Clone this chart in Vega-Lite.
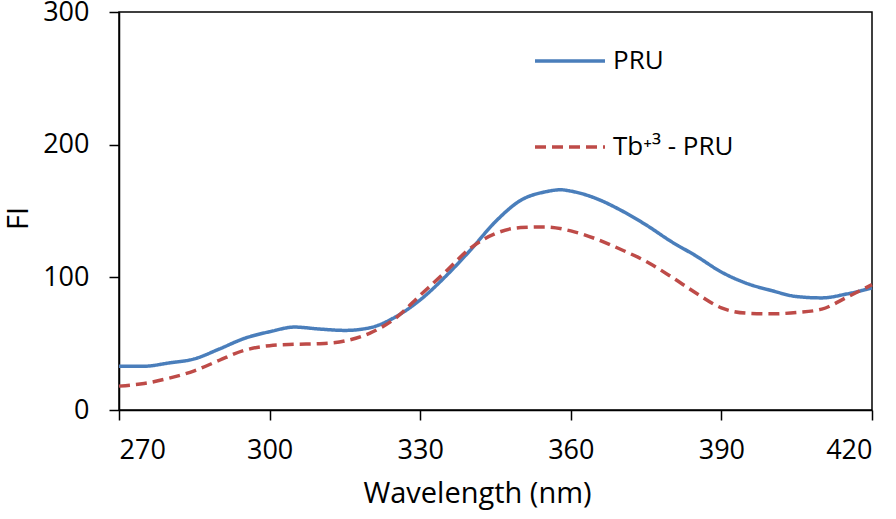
{
  "$schema": "https://vega.github.io/schema/vega-lite/v6.json",
  "width": 753,
  "height": 398,
  "autosize": {"type": "none"},
  "padding": {"left": 119, "top": 12, "right": 24, "bottom": 109},
  "background": "white",
  "data": {
    "values": [
      {"w": 270, "fi": 33, "s": "PRU"}, {"w": 275, "fi": 33, "s": "PRU"}, {"w": 280, "fi": 35.5, "s": "PRU"},
      {"w": 285, "fi": 38.5, "s": "PRU"}, {"w": 290, "fi": 46, "s": "PRU"}, {"w": 295, "fi": 54, "s": "PRU"},
      {"w": 300, "fi": 59, "s": "PRU"}, {"w": 305, "fi": 62.5, "s": "PRU"}, {"w": 310, "fi": 61, "s": "PRU"},
      {"w": 315, "fi": 60, "s": "PRU"}, {"w": 320, "fi": 62, "s": "PRU"}, {"w": 325, "fi": 70, "s": "PRU"},
      {"w": 330, "fi": 83, "s": "PRU"}, {"w": 335, "fi": 100.5, "s": "PRU"}, {"w": 340, "fi": 120.5, "s": "PRU"},
      {"w": 345, "fi": 142, "s": "PRU"}, {"w": 350, "fi": 158, "s": "PRU"}, {"w": 355, "fi": 164.5, "s": "PRU"},
      {"w": 358, "fi": 166, "s": "PRU"}, {"w": 360, "fi": 165, "s": "PRU"}, {"w": 365, "fi": 159.5, "s": "PRU"},
      {"w": 370, "fi": 150.5, "s": "PRU"}, {"w": 375, "fi": 139.5, "s": "PRU"}, {"w": 380, "fi": 127, "s": "PRU"},
      {"w": 385, "fi": 116, "s": "PRU"}, {"w": 390, "fi": 104, "s": "PRU"}, {"w": 395, "fi": 95.5, "s": "PRU"},
      {"w": 400, "fi": 90, "s": "PRU"}, {"w": 405, "fi": 85.5, "s": "PRU"}, {"w": 410, "fi": 84.5, "s": "PRU"},
      {"w": 415, "fi": 87.5, "s": "PRU"}, {"w": 420, "fi": 92, "s": "PRU"},
      {"w": 270, "fi": 18, "s": "Tb⁺³ - PRU"}, {"w": 275, "fi": 20, "s": "Tb⁺³ - PRU"}, {"w": 280, "fi": 24, "s": "Tb⁺³ - PRU"},
      {"w": 285, "fi": 29.5, "s": "Tb⁺³ - PRU"}, {"w": 290, "fi": 37.5, "s": "Tb⁺³ - PRU"}, {"w": 295, "fi": 45, "s": "Tb⁺³ - PRU"},
      {"w": 300, "fi": 48.5, "s": "Tb⁺³ - PRU"}, {"w": 305, "fi": 49.5, "s": "Tb⁺³ - PRU"}, {"w": 310, "fi": 50, "s": "Tb⁺³ - PRU"},
      {"w": 315, "fi": 52, "s": "Tb⁺³ - PRU"}, {"w": 320, "fi": 58, "s": "Tb⁺³ - PRU"}, {"w": 325, "fi": 69, "s": "Tb⁺³ - PRU"},
      {"w": 330, "fi": 86.5, "s": "Tb⁺³ - PRU"}, {"w": 335, "fi": 104, "s": "Tb⁺³ - PRU"}, {"w": 340, "fi": 122, "s": "Tb⁺³ - PRU"},
      {"w": 345, "fi": 133, "s": "Tb⁺³ - PRU"}, {"w": 350, "fi": 137.5, "s": "Tb⁺³ - PRU"}, {"w": 355, "fi": 138, "s": "Tb⁺³ - PRU"},
      {"w": 360, "fi": 135, "s": "Tb⁺³ - PRU"}, {"w": 365, "fi": 129, "s": "Tb⁺³ - PRU"}, {"w": 370, "fi": 121, "s": "Tb⁺³ - PRU"},
      {"w": 375, "fi": 112, "s": "Tb⁺³ - PRU"}, {"w": 380, "fi": 100.5, "s": "Tb⁺³ - PRU"}, {"w": 385, "fi": 88, "s": "Tb⁺³ - PRU"},
      {"w": 390, "fi": 77, "s": "Tb⁺³ - PRU"}, {"w": 395, "fi": 73, "s": "Tb⁺³ - PRU"}, {"w": 400, "fi": 72.5, "s": "Tb⁺³ - PRU"},
      {"w": 405, "fi": 73.5, "s": "Tb⁺³ - PRU"}, {"w": 410, "fi": 76, "s": "Tb⁺³ - PRU"}, {"w": 415, "fi": 85, "s": "Tb⁺³ - PRU"},
      {"w": 420, "fi": 94.5, "s": "Tb⁺³ - PRU"}
    ]
  },
  "mark": {"type": "line", "interpolate": "monotone", "strokeWidth": 3.5},
  "encoding": {
    "x": {
      "field": "w", "type": "quantitative", "title": "Wavelength (nm)",
      "scale": {"domain": [270, 420], "nice": false, "zero": false},
      "axis": {"values": [270, 300, 330, 360, 390, 420], "titleX": 358}
    },
    "y": {
      "field": "fi", "type": "quantitative", "title": "FI",
      "scale": {"domain": [0, 300], "nice": false},
      "axis": {"values": [0, 100, 200, 300], "titleY": 206}
    },
    "color": {
      "field": "s", "type": "nominal", "title": null,
      "scale": {"domain": ["PRU", "Tb⁺³ - PRU"], "range": ["#4a7ebb", "#be4b48"]}
    },
    "strokeDash": {
      "field": "s", "type": "nominal", "title": null,
      "scale": {"domain": ["PRU", "Tb⁺³ - PRU"], "range": [[1, 0], [11, 6]]}
    }
  },
  "config": {
    "font": "Open Sans",
    "view": {"stroke": "black", "strokeWidth": 1.5},
    "axis": {
      "grid": false,
      "domainColor": "black", "domainWidth": 1.5,
      "tickColor": "black", "tickWidth": 1.5, "tickSize": 10,
      "labelFont": "Open Sans", "labelFontSize": 27, "labelColor": "black",
      "titleFont": "Open Sans", "titleFontSize": 29, "titleFontWeight": "normal", "titleColor": "black"
    },
    "axisX": {"labelPadding": 17, "titlePadding": 16},
    "axisY": {"labelPadding": 20, "titlePadding": 9},
    "legend": {
      "orient": "none", "legendX": 414, "legendY": 12,
      "symbolType": "stroke", "symbolSize": 4900, "symbolStrokeWidth": 3.5,
      "labelFont": "Open Sans", "labelFontSize": 26, "labelColor": "black",
      "labelOffset": 6, "rowPadding": 36
    }
  }
}
